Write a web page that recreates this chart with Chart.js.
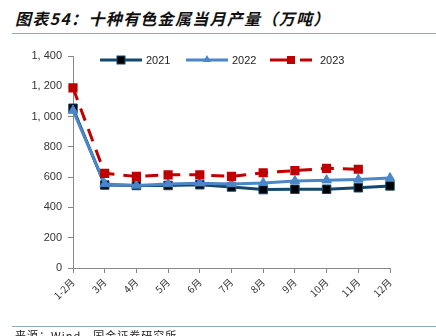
<!DOCTYPE html>
<html>
<head>
<meta charset="utf-8">
<script src="https://cdn.jsdelivr.net/npm/chart.js@4.4.0/dist/chart.umd.min.js"></script>
<style>
  html, body { margin: 0; padding: 0; background: #fff; }
  body { width: 436px; height: 336px; position: relative; overflow: hidden; font-family: "Noto Sans CJK SC", sans-serif; }
  #title { position: absolute; left: 15px; top: 6px; font-size: 16px; font-weight: bold; font-style: italic; color: #111; letter-spacing: 1.3px; white-space: nowrap; }
  #tline { position: absolute; left: 12px; right: 0; top: 33px; height: 1px; background: #8fa9c0; }
  #sline { position: absolute; left: 12px; right: 0; top: 326px; height: 1px; background: #8fa9c0; }
  #source { position: absolute; left: 15px; top: 327px; font-size: 11px; color: #222; white-space: nowrap; letter-spacing: 1px; }
  #wrap { position: absolute; left: 0; top: 0; width: 436px; height: 336px; }
</style>
</head>
<body>
<div id="title">图表54：十种有色金属当月产量（万吨）</div>
<div id="tline"></div>
<div id="wrap"><canvas id="c" width="436" height="336"></canvas></div>
<div id="sline"></div>
<div id="source">来源：Wind，国金证券研究所</div>
<script>
const categories = ["1-2月", "3月", "4月", "5月", "6月", "7月", "8月", "9月", "10月", "11月", "12月"];
const series2021 = [1055, 548, 545, 545, 550, 535, 518, 520, 520, 530, 542];
const series2022 = [1040, 555, 545, 555, 560, 555, 562, 575, 580, 585, 594];
const series2023 = [1190, 625, 605, 615, 615, 605, 629, 643, 658, 652, null];
const yTicks = [0, 200, 400, 600, 800, 1000, 1200, 1400];

const legendItems = [
  { label: "2021", color: "#15486e", marker: "rect", markerColor: "#000000", dash: [], x: 100 },
  { label: "2022", color: "#4a86c8", marker: "triangle", markerColor: "#4a86c8", dash: [], x: 186 },
  { label: "2023", color: "#c00000", marker: "rect", markerColor: "#c00000", dash: [20, 10], x: 270 }
];

const legendPlugin = {
  id: "customLegend",
  afterDraw(chart) {
    const ctx = chart.ctx;
    const y = 60;
    ctx.save();
    legendItems.forEach((it, i) => {
      const x0 = it.x, len = 42;
      ctx.strokeStyle = it.color;
      ctx.lineWidth = 3;
      ctx.setLineDash(it.dash);
      ctx.beginPath();
      ctx.moveTo(x0, y);
      ctx.lineTo(x0 + len, y);
      ctx.stroke();
      ctx.setLineDash([]);
      const mx = x0 + len / 2;
      ctx.fillStyle = it.markerColor;
      if (it.marker === "rect") {
        ctx.fillRect(mx - 4, y - 4, 8, 8);
        if (i === 0) { ctx.strokeStyle = it.color; ctx.lineWidth = 1; ctx.strokeRect(mx - 4, y - 4, 8, 8); }
      } else {
        ctx.beginPath();
        ctx.moveTo(mx, y - 5);
        ctx.lineTo(mx + 4, y + 2);
        ctx.lineTo(mx - 4, y + 2);
        ctx.closePath();
        ctx.fill();
      }
      ctx.fillStyle = "#222";
      ctx.font = "11px 'Liberation Sans', Arial, sans-serif";
      ctx.textBaseline = "middle";
      ctx.fillText(it.label, x0 + len + 4 + (i === 2 ? 4 : 0), y + 1);
    });
    ctx.restore();
  }
};

new Chart(document.getElementById("c"), {
  type: "line",
  data: {
    labels: categories,
    datasets: [
      {
        label: "2021", data: series2021, order: 2,
        borderColor: "#15486e", borderWidth: 3,
        pointStyle: "rect", pointRadius: 6, pointBackgroundColor: "#000000",
        pointBorderColor: "#15486e", pointBorderWidth: 1, tension: 0
      },
      {
        label: "2022", data: series2022, order: 1,
        borderColor: "#4a86c8", borderWidth: 3,
        pointStyle: "triangle", pointRadius: 5.5, pointBackgroundColor: "#4a86c8",
        pointBorderColor: "#4a86c8", pointBorderWidth: 1, tension: 0
      },
      {
        label: "2023", data: series2023, order: 0,
        borderColor: "#c00000", borderWidth: 3, borderDash: [13, 9],
        pointStyle: "rect", pointRadius: 6.5, pointBackgroundColor: "#c00000",
        pointBorderColor: "#c00000", pointBorderWidth: 0, tension: 0
      }
    ]
  },
  options: {
    responsive: false,
    animation: false,
    devicePixelRatio: 1,
    layout: { padding: { left: 0, top: 56, right: 46, bottom: 0 } },
    plugins: { legend: { display: false }, tooltip: { enabled: false } },
    scales: {
      x: {
        type: "category",
        offset: false,
        grid: { display: true, drawOnChartArea: false, drawTicks: true, tickLength: 5, color: "#888" },
        border: { color: "#888", width: 1 },
        ticks: {
          minRotation: 45, maxRotation: 45, autoSkip: false,
          color: "#333", font: { size: 10, family: "'Noto Sans CJK SC', sans-serif" }, padding: 3
        },
        afterFit(scale) { scale.height = 68; }
      },
      y: {
        min: 0, max: 1400,
        afterBuildTicks(scale) { scale.ticks = yTicks.map(v => ({ value: v })); },
        grid: { display: true, drawOnChartArea: false, drawTicks: true, tickLength: 5, color: "#888" },
        border: { color: "#888", width: 1 },
        ticks: {
          color: "#333", padding: 6,
          font: { size: 11, family: "'Liberation Sans', Arial, sans-serif" },
          callback: v => v.toLocaleString("en-US").replace(",", ", ")
        },
        afterFit(scale) { scale.width = 73; }
      }
    }
  },
  plugins: [legendPlugin]
});
</script>
</body>
</html>
